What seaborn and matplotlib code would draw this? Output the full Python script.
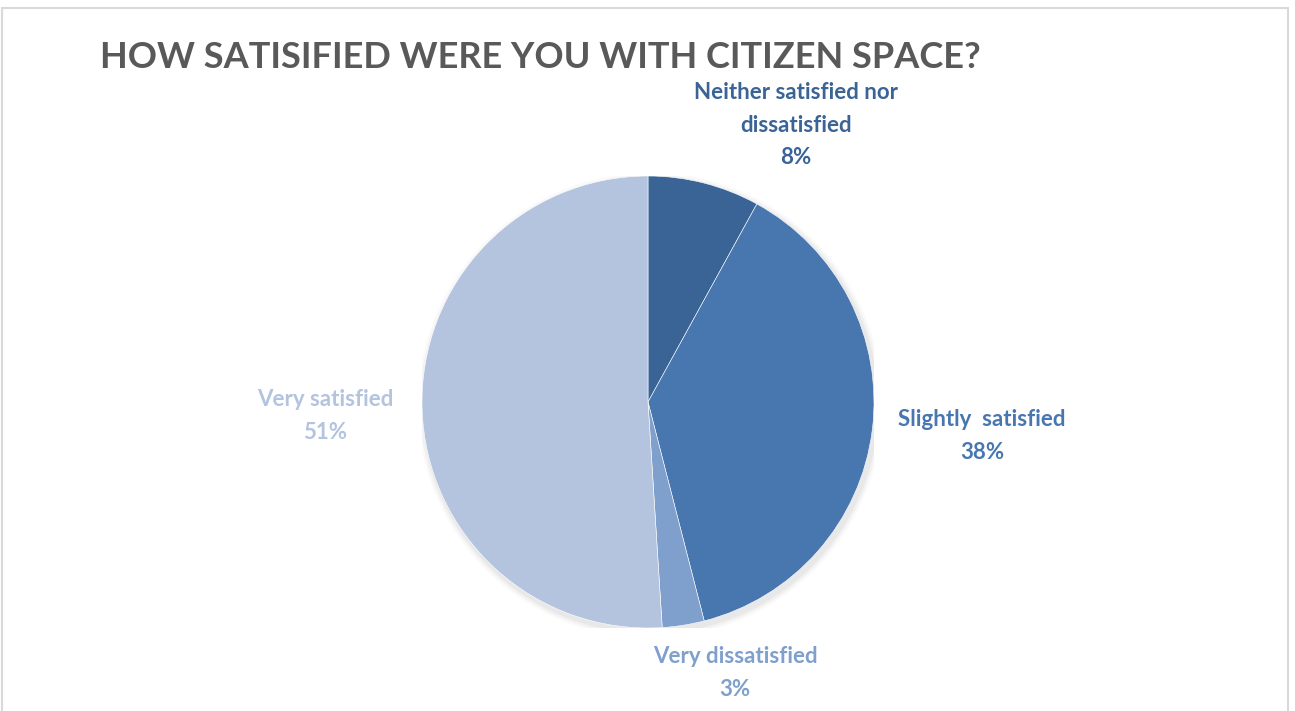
import matplotlib
matplotlib.use("Agg")
import matplotlib.pyplot as plt
import seaborn as sns
import numpy as np
from matplotlib.patches import Rectangle

categories = ["Neither satisfied nor\ndissatisfied", "Slightly  satisfied", "Very dissatisfied", "Very satisfied"]
values = [8, 38, 3, 51]
colors = ["#3A6496", "#4877B0", "#7F9FCC", "#B4C3DE"]

sns.set_theme(style="white")
plt.rcParams['font.family'] = ['Lato', 'DejaVu Sans']

W, H = 1295, 711
fig = plt.figure(figsize=(W / 100, H / 100), dpi=100)
fig.patch.set_facecolor("white")

# outer chart border
fig.add_artist(Rectangle((2 / W, -0.05), (1288 - 2) / W, 1.05 - 8 / H, transform=fig.transFigure,
                         fill=False, edgecolor="#D9D9D9", linewidth=1.5))

cx, cy, r = 648, 402, 226
ax = fig.add_axes([(cx - r) / W, 1 - (cy + r) / H, 2 * r / W, 2 * r / H])
ax.set_xlim(-1, 1)
ax.set_ylim(-1, 1)
ax.axis("off")

# soft shadow
for i, a in enumerate([0.04, 0.03, 0.02]):
    sh = plt.Circle((0.01, -0.015), 1.0 + 0.01 * (i + 1), color="black", alpha=a, zorder=0, linewidth=0)
    ax.add_patch(sh)

ax.pie(values, colors=colors, startangle=90, counterclock=False, radius=1.0,
       wedgeprops=dict(edgecolor="white", linewidth=0.4), frame=False)
ax.set_xlim(-1, 1)
ax.set_ylim(-1, 1)

fig.text(100 / W, 1 - 57 / H, "HOW SATISIFIED WERE YOU WITH CITIZEN SPACE?",
         fontsize=26, fontweight="bold", color="#595959", ha="left", va="center")

label_pos = [(796, 125), (982, 436), (735, 673), (325, 416)]
for cat, v, c, (x, y) in zip(categories, values, colors, label_pos):
    fig.text(x / W, 1 - y / H, f"{cat}\n{v}%", fontsize=16, fontweight="bold", color=c,
             ha="center", va="center", linespacing=1.65)

fig.savefig("out.png", dpi=100, facecolor="white")
